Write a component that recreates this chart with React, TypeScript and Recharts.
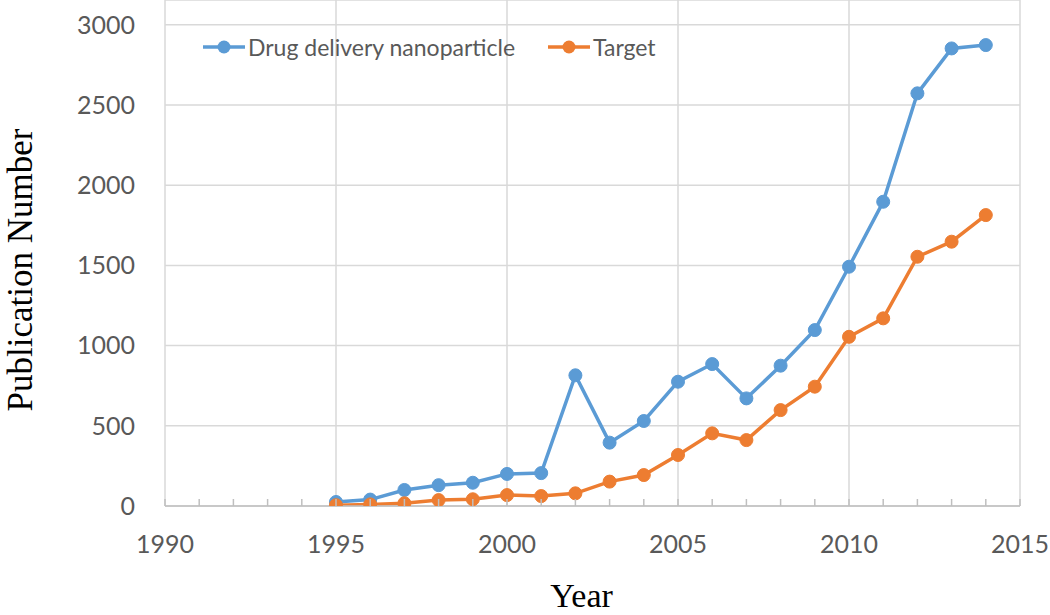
import React from 'react';
import { LineChart, Line, XAxis, YAxis, CartesianGrid, Legend, ReferenceLine } from 'recharts';

const years = [1995, 1996, 1997, 1998, 1999, 2000, 2001, 2002, 2003, 2004, 2005, 2006, 2007, 2008, 2009, 2010, 2011, 2012, 2013, 2014];
const drugDelivery = [25, 40, 100, 130, 145, 200, 205, 815, 395, 530, 775, 885, 671, 875, 1097, 1492, 1897, 2573, 2853, 2874];
const targetSeries = [5, 10, 17, 37, 42, 68, 62, 79, 152, 193, 318, 453, 411, 598, 744, 1055, 1170, 1554, 1648, 1814];
const xTicks = [1990, 1995, 2000, 2005, 2010, 2015];
const minorTicks = [1990, 1991, 1992, 1993, 1994, 1995, 1996, 1997, 1998, 1999, 2000, 2001, 2002, 2003, 2004, 2005, 2006, 2007, 2008, 2009, 2010, 2011, 2012, 2013, 2014, 2015];
const yTicks = [0, 500, 1000, 1500, 2000, 2500, 3000];
const seriesNames = ['Drug delivery nanoparticle', 'Target'];
const seriesColors = ['#5B9BD5', '#ED7D31'];

const data = years.map((y, i) => ({ year: y, drug: drugDelivery[i], target: targetSeries[i] }));

const tickStyle = { fill: '#595959', fontSize: 25, fontFamily: 'Lato' };
const legendLefts = [203, 548];
const X_TICK_MARGIN = 29;

const renderLegend = (props: any) => {
  const payload = props.payload || [];
  return (
    <div style={{ position: 'relative', width: 1050, height: 0 }}>
      {payload.map((p: any, i: number) => (
        <div
          key={i}
          style={{
            position: 'absolute',
            left: legendLefts[i],
            top: 32,
            display: 'flex',
            alignItems: 'center',
            whiteSpace: 'nowrap',
            fontFamily: 'Lato',
            fontSize: 23,
            color: '#595959',
            lineHeight: '30px',
          }}
        >
          <svg width={42} height={16} style={{ marginRight: 3 }}>
            <line x1={0} y1={8} x2={42} y2={8} stroke={p.color} strokeWidth={3.5} />
            <circle cx={21} cy={8} r={6.5} fill={p.color} />
          </svg>
          <span>{p.value}</span>
        </div>
      ))}
    </div>
  );
};

const XTick = (props: any) => {
  const { x, y, payload } = props;
  const v = payload && payload.value;
  const axisY = y - X_TICK_MARGIN;
  return (
    <g>
      <line x1={x} y1={axisY} x2={x} y2={axisY - 7} stroke="#bfbfbf" strokeWidth={1.5} />
      {xTicks.indexOf(v) >= 0 ? (
        <text x={x} y={y} dy="0.71em" textAnchor="middle" fill={tickStyle.fill} fontSize={tickStyle.fontSize} fontFamily={tickStyle.fontFamily}>
          {v}
        </text>
      ) : null}
    </g>
  );
};

const YLabel = (props: any) => {
  const vb = props.viewBox || { x: 0, y: 0, width: 165, height: 506 };
  const cx = vb.x + 32;
  const cy = vb.y + vb.height / 2 + 17;
  return (
    <text
      x={cx}
      y={cy}
      transform={`rotate(-90 ${cx} ${cy})`}
      textAnchor="middle"
      fontFamily="'Liberation Serif', 'Times New Roman', serif"
      fontSize={35}
      fill="#000"
    >
      Publication Number
    </text>
  );
};

const XLabel = (props: any) => {
  const vb = props.viewBox || { x: 165, y: 506, width: 855, height: 109 };
  return (
    <text
      x={vb.x + vb.width / 2 - 11}
      y={vb.y + 101}
      textAnchor="middle"
      fontFamily="'Liberation Serif', 'Times New Roman', serif"
      fontSize={34}
      fill="#000"
    >
      Year
    </text>
  );
};

export default function App() {
  return (
    <div style={{ position: 'absolute', left: 0, top: 0, background: '#fff' }}>
      <LineChart width={1050} height={615} data={data} margin={{ top: 0, right: 30, left: 0, bottom: 0 }}>
        <CartesianGrid stroke="#d9d9d9" strokeWidth={1.5} vertical={false} />
        {xTicks.map((t) => (
          <ReferenceLine key={t} x={t} stroke="#d9d9d9" strokeWidth={1.5} />
        ))}
        <XAxis
          dataKey="year"
          type="number"
          domain={[1990, 2015]}
          allowDataOverflow
          ticks={minorTicks}
          interval={0}
          height={109}
          tickSize={0}
          tickMargin={X_TICK_MARGIN}
          tickLine={false}
          axisLine={{ stroke: '#bfbfbf', strokeWidth: 1.5 }}
          tick={<XTick />}
          label={<XLabel />}
        />
        <YAxis
          type="number"
          domain={[0, 3155]}
          allowDataOverflow
          ticks={yTicks}
          interval={0}
          width={165}
          tickSize={0}
          tickMargin={30}
          tickLine={false}
          axisLine={false}
          tick={tickStyle}
          label={<YLabel />}
        />
        <Legend content={renderLegend} verticalAlign="top" wrapperStyle={{ left: 0, top: 0, width: 1050, height: 0 }} />
        <Line
          name={seriesNames[0]}
          dataKey="drug"
          stroke={seriesColors[0]}
          strokeWidth={3.5}
          dot={{ r: 6.5, fill: seriesColors[0], stroke: seriesColors[0], strokeWidth: 1 }}
          isAnimationActive={false}
        />
        <Line
          name={seriesNames[1]}
          dataKey="target"
          stroke={seriesColors[1]}
          strokeWidth={3.5}
          dot={{ r: 6.5, fill: seriesColors[1], stroke: seriesColors[1], strokeWidth: 1 }}
          isAnimationActive={false}
        />
      </LineChart>
    </div>
  );
}
